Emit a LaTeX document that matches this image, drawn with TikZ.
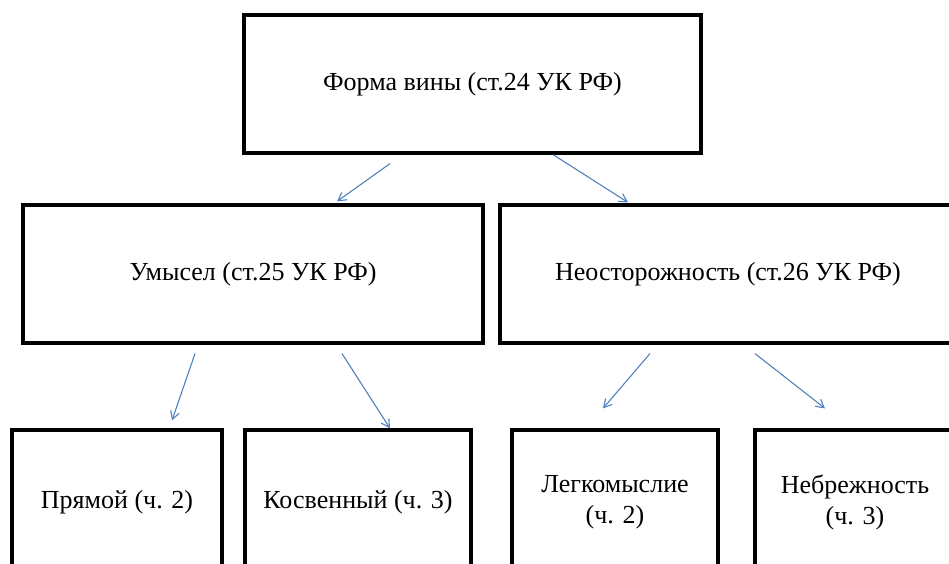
\documentclass[tikz,border=0pt]{standalone}
\usepackage{fontspec}
\setmainfont{Liberation Serif}
\usepackage{xcolor}
\definecolor{arrowblue}{HTML}{4F81BD}
\usetikzlibrary{arrows.meta}

\begin{document}
\begin{tikzpicture}[x=1pt,y=-1pt,
  box/.style={draw,black,line width=3.2pt,align=center,inner sep=0pt,
    font=\fontsize{26}{31}\selectfont}]
\def\l{8pt}
\def\w{9pt}
\def\t{1.1pt}
\clip (0,0) rectangle (949,564);
%\draw[red] (0,0) rectangle (949,564);

\node [box, minimum width=457pt, minimum height=138pt, name=a1] at (472.5,84) {Форма вины (ст.24 УК РФ)};
\node [box, minimum width=460pt, minimum height=138pt, name=b1] at (253,274) {Умысел (ст.25 УК РФ)};
\node [box, minimum width=456pt, minimum height=138pt, name=b2] at (728,274) {Неосторожность (ст.26 УК РФ)};
\node [box, minimum width=210pt, minimum height=144pt, name=c1] at (117,502) {Прямой (ч. 2)};
\node [box, minimum width=226pt, minimum height=144pt, name=c2] at (358,502) {Косвенный (ч. 3)};
\node [box, minimum width=206pt, minimum height=144pt, name=c3] at (615,502) {Легкомыслие\\(ч. 2)};
\node [box, minimum width=200pt, minimum height=144pt, name=c4] at (855,502) {Небрежность\\(ч. 3)};
\draw [arrowblue, line width=\t, -{Straight Barb[length=\l, width=\w]}]([xshift=-82.5pt, yshift=-9pt]a1.south) to ([xshift=84pt, yshift=2pt]b1.north);
\draw [arrowblue, line width=\t, -{Straight Barb[length=\l, width=\w]}]([xshift=80.5pt]a1.south) to ([xshift=-100pt, yshift=1pt]b2.north);
\draw [arrowblue, line width=\t, -{Straight Barb[length=\l, width=\w]}]([xshift=-58pt, yshift=-9pt]b1.south) to ([xshift=55pt, yshift=8pt]c1.north);
\draw [arrowblue, line width=\t, -{Straight Barb[length=\l, width=\w]}]([xshift=89pt, yshift=-9pt]b1.south) to ([xshift=32pt]c2.north);
\draw [arrowblue, line width=\t, -{Straight Barb[length=\l, width=\w]}]([xshift=-78pt, yshift=-9pt]b2.south) to ([xshift=-12pt, yshift=20pt]c3.north);
\draw [arrowblue, line width=\t, -{Straight Barb[length=\l, width=\w]}]([xshift=27pt, yshift=-9pt]b2.south) to ([xshift=-30pt, yshift=20pt]c4.north);
\end{tikzpicture}
\end{document}
